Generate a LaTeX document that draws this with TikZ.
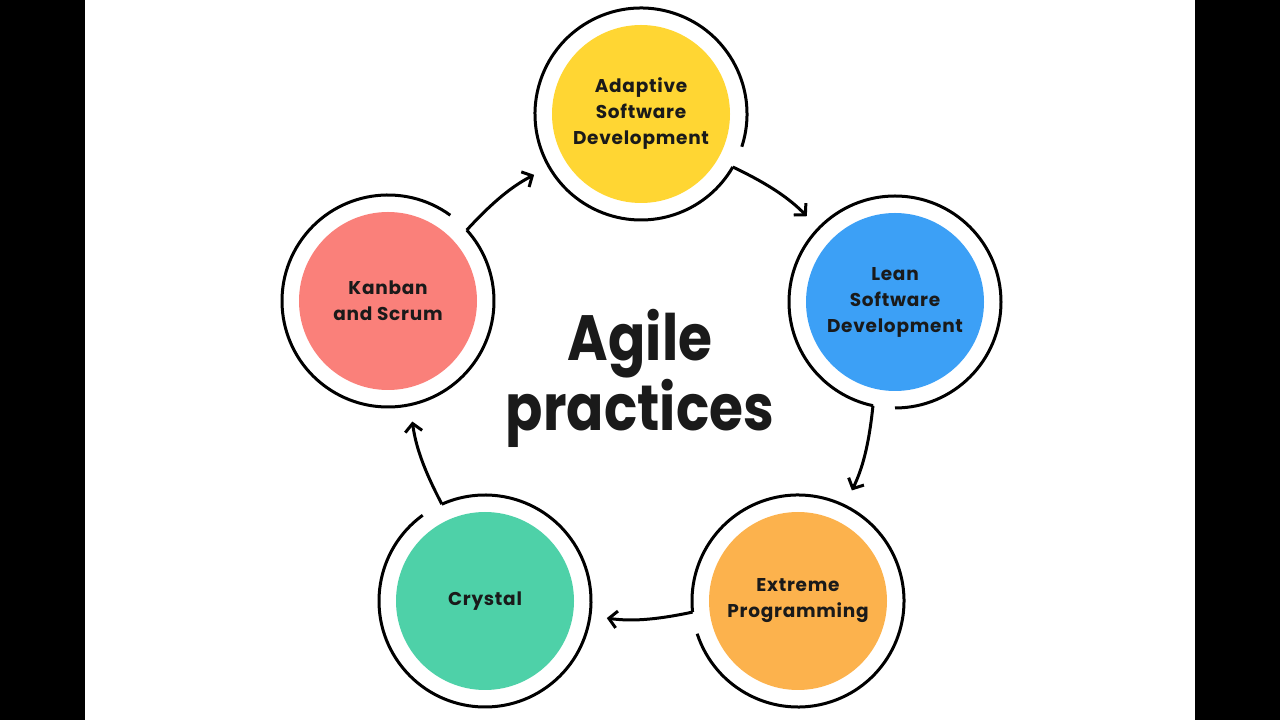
\documentclass[tikz,border=0pt]{standalone}
\usepackage{fontspec}
\setmainfont{Poppins}
\usepackage{xcolor}
\usetikzlibrary{arrows.meta}
\definecolor{asdyellow}{RGB}{255,214,51}
\definecolor{lsdblue}{RGB}{60,160,246}
\definecolor{xporange}{RGB}{252,178,77}
\definecolor{crygreen}{RGB}{78,209,168}
\definecolor{kasred}{RGB}{250,128,122}
\definecolor{inkdark}{RGB}{26,26,26}

\begin{document}
\begin{tikzpicture}[x=1pt,y=1pt,
  practice/.style={circle, minimum size=178pt, outer sep=17pt, inner sep=0pt,
    align=center, text=inkdark,
    font=\bfseries\fontsize{18.5}{26}\selectfont\addfontfeatures{LetterSpace=4}},
  ring/.style={line width=3pt, draw=black},
  link/.style={line width=3pt, -{Straight Barb[length=8pt,width=17pt]},
    shorten >=17pt, bend left=10}]
 \path[use as bounding box] (0,0) rectangle (1280,720);
\fill[black] (0,0) rectangle (85,720);
\fill[black] (1195,0) rectangle (1280,720);

\node[practice, fill=asdyellow] (asd) at (641,606) {Adaptive\\Software\\Development};
\node[practice, fill=lsdblue] (lsd) at (895,418) {Lean\\Software\\Development};
\node[practice, fill=xporange] (xp) at (798,119) {Extreme\\Programming};
\node[practice, fill=crygreen] (cry) at (485,119) {Crystal};
\node[practice, fill=kasred] (kas) at (388,419) {Kanban\\and Scrum};

\node[align=center, text=inkdark,
  font=\bfseries\fontsize{64}{70}\selectfont\addfontfeatures{FakeStretch=0.86}]
  (title) at (640,342) {Agile\\practices};

% open rings, the gap sits where the link leaves
\foreach \n/\s/\e in {asd/-18/330, lsd/-90/258, xp/198/546, cry/126/474, kas/54/402}
	\draw[ring] (\n.\s) arc[start angle=\s, end angle=\e, radius=106pt];

\draw[link] (asd.-30) to (lsd.136);
\draw[link] (lsd.-102) to (xp.64);
\draw[link] (xp.186) to (cry.-8);
\draw[link] (cry.114) to (kas.-78);
\draw[link] (kas.42) to (asd.-150);

\end{tikzpicture}
\end{document}
